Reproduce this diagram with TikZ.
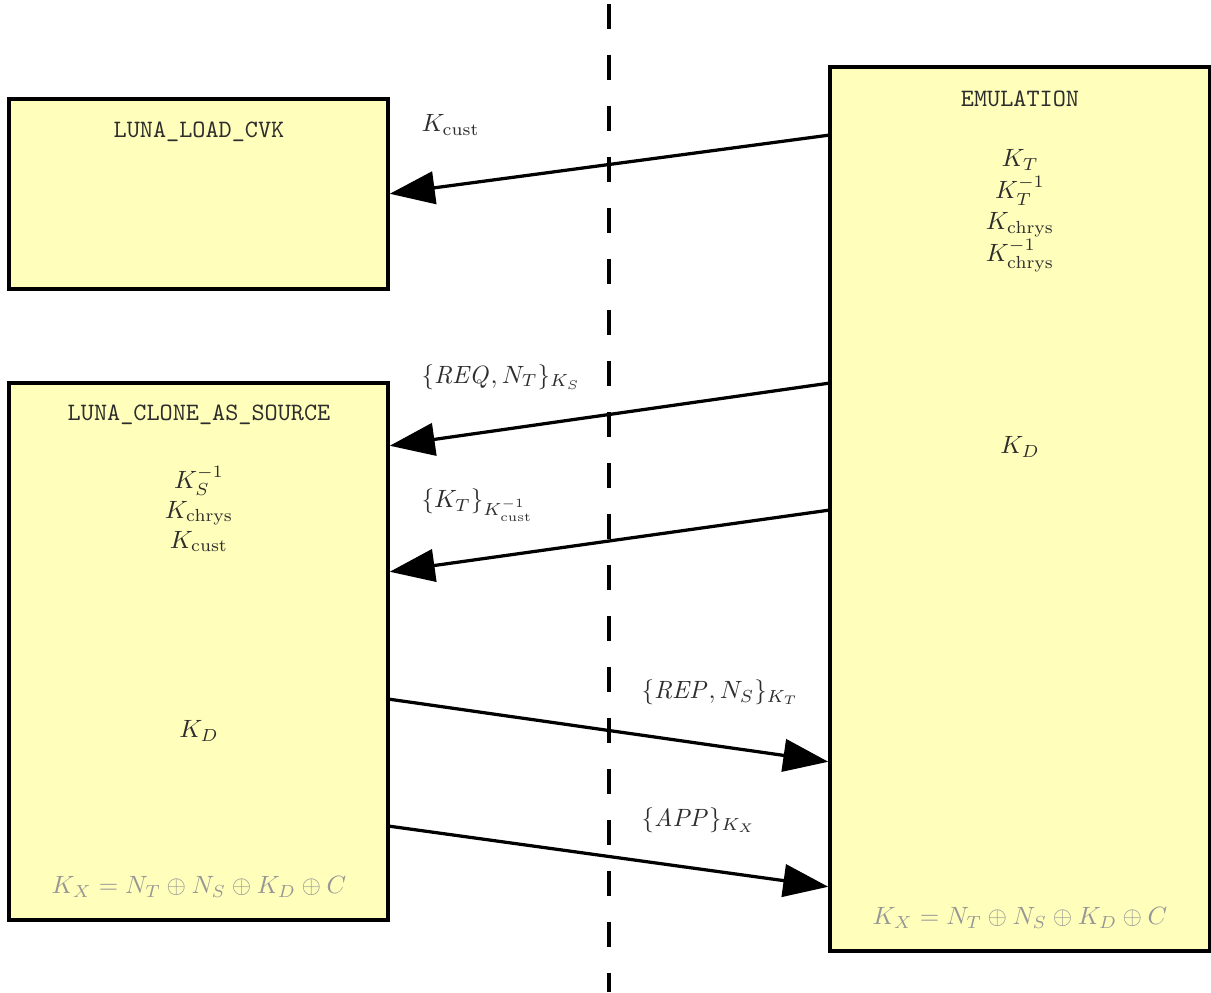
\documentclass[tikz,border=0pt]{standalone}
\usetikzlibrary{arrows.meta,calc}
\definecolor{boxfill}{RGB}{255,255,187}
\definecolor{txt}{RGB}{45,45,45}
\definecolor{faintc}{RGB}{150,150,150}
\begin{document}
\begin{tikzpicture}[x=0.4pt,y=-0.4pt,
  box/.style={draw=black, line width=1.5pt, fill=boxfill, anchor=north west, inner sep=0pt, outer sep=0pt},
  title/.style={font=\ttfamily, text=txt, inner sep=0pt},
  keys/.style={text=txt, align=center, inner sep=0pt},
  faint/.style={text=faintc, inner sep=0pt},
  msg/.style={-{Triangle[length=18pt,width=13pt]}, line width=1.3pt, shorten >=0.7pt},
  lbl/.style={text=txt, inner sep=0pt, anchor=west},
  divider/.style={line width=1.6pt, dash pattern=on 10pt off 10.4pt}]
\useasboundingbox (0,0) rectangle (1211,992);
% divider
\coordinate (dtop) at (609,4);
\coordinate (dbot) at (609,992);
\draw[divider] (dtop) -- (dbot);
% boxes
\node[box, minimum width=151.6pt, minimum height=76pt] (load) at (9,99) {};
\node[box, minimum width=151.6pt, minimum height=214.8pt] (clone) at (9,383) {};
\node[box, minimum width=152pt, minimum height=353.6pt] (emu) at (830,67) {};
% titles
\node[title] (loadt) at (199,132) {LUNA\_LOAD\_CVK};
\node[title] (clonet) at (199,415) {LUNA\_CLONE\_AS\_SOURCE};
\node[title] (emut) at (1020,99) {EMULATION};
% contents
\node[keys] (emukeys) at (1020,211) {$K_T$\\[0.6pt]$K_T^{-1}$\\[0.6pt]$K_{\mathrm{chrys}}$\\[0.6pt]$K_{\mathrm{chrys}}^{-1}$};
\node[keys] (emukd) at (1020,447) {$K_D$};
\node[keys] (clonekeys) at (199,509) {$K_S^{-1}$\\$K_{\mathrm{chrys}}$\\$K_{\mathrm{cust}}$};
\node[keys] (clonekd) at (199,731) {$K_D$};
\node[faint] (clonex) at (199,887) {$K_X = N_T \oplus N_S \oplus K_D \oplus C$};
\node[faint] (emux) at (1020,918) {$K_X = N_T \oplus N_S \oplus K_D \oplus C$};
% messages
\draw[msg] ($(emu.north west)+(0,68)$) -- (load.east);
\draw[msg] ($(emu.north west)+(0,316)$) -- ($(clone.north east)+(0,63)$);
\draw[msg] ($(emu.north west)+(0,443)$) -- ($(clone.north east)+(0,189)$);
\draw[msg] ($(clone.north east)+(0,316)$) -- ($(emu.north west)+(0,695)$);
\draw[msg] ($(clone.north east)+(0,443)$) -- ($(emu.north west)+(0,820)$);
% labels
\node[lbl] (l1) at (421,125) {$K_{\mathrm{cust}}$};
\node[lbl] (l2) at (421,377) {$\{\mathit{REQ}, N_T\}_{K_S}$};
\node[lbl] (l3) at (421,505) {$\{K_T\}_{K_{\mathrm{cust}}^{-1}}$};
\node[lbl] (l4) at (641,692) {$\{\mathit{REP}, N_S\}_{K_T}$};
\node[lbl] (l5) at (641,820) {$\{\mathit{APP}\}_{K_X}$};
\end{tikzpicture}
\end{document}
